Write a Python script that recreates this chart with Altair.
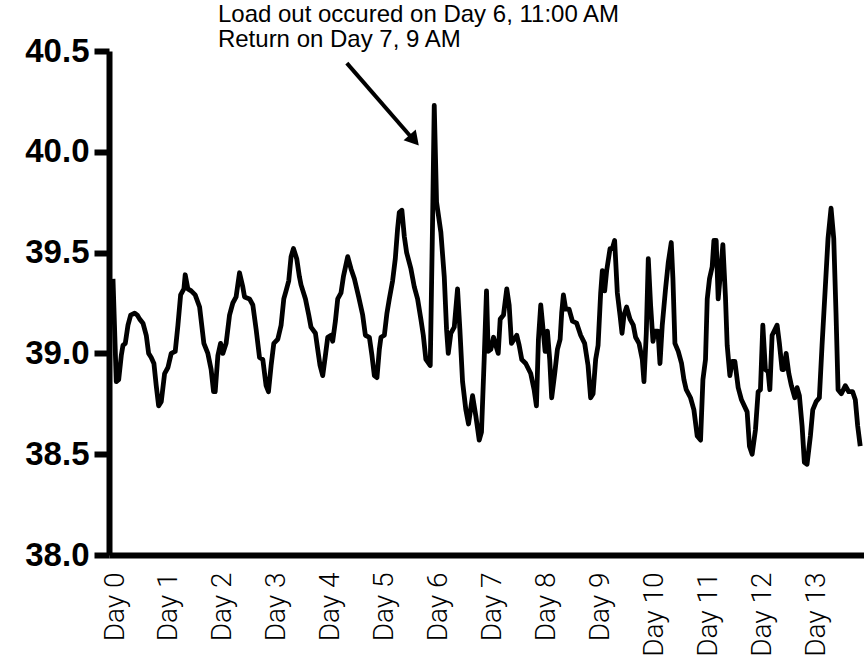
import altair as alt
import pandas as pd

day_ticks = list(range(14))
y_ticks = [38.0, 38.5, 39.0, 39.5, 40.0, 40.5]

days = [
    0.074, 0.135, 0.180, 0.228, 0.259, 0.302, 0.352, 0.402, 0.476, 0.524,
    0.569, 0.630, 0.691, 0.735, 0.783, 0.833, 0.876, 0.920, 0.969, 1.031,
    1.093, 1.154, 1.228, 1.278, 1.328, 1.389, 1.413, 1.463, 1.524, 1.598,
    1.680, 1.759, 1.833, 1.894, 1.939, 1.969, 2.019, 2.069, 2.111, 2.172,
    2.235, 2.296, 2.357, 2.420, 2.481, 2.513, 2.606, 2.667, 2.728, 2.791,
    2.852, 2.913, 2.957, 3.006, 3.056, 3.130, 3.191, 3.241, 3.283,
    3.333, 3.376, 3.420, 3.481, 3.531, 3.561, 3.643, 3.704, 3.746, 3.828,
    3.870, 3.913, 3.963, 4.013, 4.056, 4.117, 4.148, 4.198, 4.241, 4.302,
    4.346, 4.426, 4.487, 4.550, 4.630, 4.704, 4.754, 4.828, 4.876, 4.920,
    4.969, 5.013, 5.043, 5.106, 5.154, 5.198, 5.259, 5.309, 5.352, 5.383,
    5.431, 5.476, 5.519, 5.598, 5.661, 5.722, 5.783, 5.828, 5.876, 5.957,
    6.000, 6.031, 6.074, 6.154, 6.217, 6.259, 6.291, 6.339, 6.402, 6.463,
    6.506, 6.556, 6.617, 6.667,
    6.741, 6.802, 6.865, 6.907, 6.957, 7.000, 7.031, 7.080, 7.130, 7.172,
    7.217, 7.254, 7.315, 7.376, 7.420, 7.463, 7.513, 7.561, 7.606, 7.654,
    7.728, 7.820, 7.883, 7.926, 7.963, 8.006, 8.056, 8.087, 8.130, 8.172,
    8.209, 8.265, 8.315, 8.365, 8.394, 8.426, 8.469, 8.531, 8.593, 8.672,
    8.746, 8.820, 8.883, 8.931, 8.976, 9.024, 9.069, 9.117, 9.148, 9.191,
    9.228, 9.291, 9.333, 9.376, 9.426, 9.476, 9.513, 9.550, 9.598, 9.661,
    9.722, 9.765, 9.828, 9.889, 9.920, 9.963, 10.000, 10.043, 10.087, 10.124,
    10.180, 10.217, 10.259, 10.320, 10.370, 10.426, 10.457, 10.494, 10.556, 10.617,
    10.661, 10.704, 10.783, 10.846, 10.907, 10.969, 11.013, 11.061, 11.093, 11.135,
    11.185, 11.217, 11.259, 11.296, 11.339, 11.383, 11.431, 11.463, 11.513, 11.556,
    11.606, 11.667, 11.728, 11.833, 11.876, 11.926, 11.987, 12.037, 12.080, 12.124,
    12.172, 12.222, 12.254, 12.296, 12.389, 12.431, 12.481, 12.513, 12.556, 12.606,
    12.654, 12.717, 12.759, 12.802, 12.852, 12.894, 12.944, 13.006, 13.050, 13.111,
    13.172, 13.222, 13.283, 13.333, 13.389, 13.439, 13.481, 13.519, 13.580, 13.654,
    13.717, 13.789, 13.839, 13.883, 13.930,
]

temps = [
    39.37, 38.86, 38.87, 38.99, 39.04, 39.05, 39.14, 39.19, 39.20, 39.19,
    39.17, 39.15, 39.09, 39.00, 38.98, 38.95, 38.84, 38.74, 38.76, 38.90,
    38.93, 39.00, 39.01, 39.14, 39.29, 39.32, 39.39, 39.32, 39.31, 39.29,
    39.23, 39.05, 39.00, 38.92, 38.81, 38.81, 38.99, 39.05, 39.00, 39.05,
    39.19, 39.25, 39.28, 39.40, 39.33, 39.28, 39.27, 39.24, 39.12, 38.98,
    38.97, 38.84, 38.81, 38.94, 39.05, 39.07, 39.14, 39.27, 39.31,
    39.36, 39.48, 39.52, 39.47, 39.38, 39.34, 39.27, 39.19, 39.13, 39.10,
    39.02, 38.94, 38.89, 38.99, 39.08, 39.09, 39.06, 39.16, 39.27, 39.30,
    39.38, 39.48, 39.42, 39.37, 39.28, 39.19, 39.09, 39.08, 38.99, 38.89,
    38.88, 39.02, 39.08, 39.09, 39.20, 39.27, 39.36, 39.47, 39.62, 39.70,
    39.71, 39.58, 39.50, 39.42, 39.33, 39.27, 39.17, 39.09, 38.97, 38.94,
    39.65, 40.23, 39.75, 39.60, 39.38, 39.12, 39.00, 39.10, 39.13, 39.32,
    39.12, 38.86, 38.72, 38.65,
    38.79, 38.69, 38.57, 38.61, 38.97, 39.31, 39.01, 39.02, 39.08, 39.04,
    39.00, 39.17, 39.19, 39.32, 39.24, 39.05, 39.07, 39.09, 39.04, 38.97,
    38.95, 38.90, 38.82, 38.74, 39.07, 39.24, 39.10, 39.01, 39.11, 38.97,
    38.78, 38.90, 39.02, 39.07, 39.20, 39.29, 39.22, 39.22, 39.16, 39.15,
    39.09, 39.05, 38.94, 38.78, 38.80, 38.97, 39.04, 39.30, 39.41, 39.31,
    39.41, 39.52, 39.52, 39.56, 39.30, 39.19, 39.10, 39.19, 39.23, 39.17,
    39.14, 39.08, 39.05, 38.97, 38.86, 39.10, 39.47, 39.24, 39.06, 39.11,
    39.11, 38.95, 39.14, 39.32, 39.45, 39.55, 39.37, 39.05, 39.01, 38.95,
    38.87, 38.82, 38.78, 38.72, 38.59, 38.57, 38.87, 38.97, 39.27, 39.37,
    39.43, 39.56, 39.56, 39.27, 39.40, 39.54, 39.28, 39.04, 38.89, 38.96,
    38.96, 38.83, 38.77, 38.71, 38.54, 38.50, 38.62, 38.81, 38.82, 39.14,
    38.92, 38.91, 38.82, 39.09, 39.14, 39.05, 38.92, 38.92, 39.00, 38.90,
    38.84, 38.78, 38.83, 38.79, 38.64, 38.46, 38.45, 38.59, 38.72, 38.76,
    38.78, 39.04, 39.33, 39.57, 39.72, 39.57, 39.20, 38.82, 38.80, 38.84,
    38.81, 38.81, 38.77, 38.64, 38.54,
]

note_lines = ["Load out occured on Day 6, 11:00 AM", "Return on Day 7, 9 AM"]
note_day = [2.02, 2.02]
note_temp = [40.68, 40.555]

arrow_start = [4.41, 40.44]
arrow_end = [5.63, 40.065]
head_pos = [5.66, 40.058]

df = pd.DataFrame({"day": days, "temp": temps})
notes = pd.DataFrame({"day": note_day, "temp": note_temp, "label": note_lines})
arrow = pd.DataFrame({"day": [arrow_start[0]], "temp": [arrow_start[1]],
                      "day2": [arrow_end[0]], "temp2": [arrow_end[1]]})
head = pd.DataFrame({"day": [head_pos[0]], "temp": [head_pos[1]]})

x_scale = alt.Scale(domain=[0, 14], nice=False, zero=False)
y_scale = alt.Scale(domain=[38, 40.5], nice=False, zero=False)

x_axis = alt.Axis(
    values=day_ticks, labelExpr="'Day ' + datum.value", labelAngle=270,
    ticks=False, tickSize=0, domainWidth=6, domainColor="black",
    labelFont="Roboto", labelFontWeight=300, labelFontSize=28, labelColor="black",
    labelPadding=17, labelOffset=6, labelFlush=False, labelOverlap=False,
    grid=False, title=None,
)
y_axis = alt.Axis(
    values=y_ticks, format=".1f", tickSize=15, tickWidth=6, tickColor="black",
    domainWidth=6, domainColor="black", labelFont="Liberation Sans",
    labelFontWeight="bold", labelFontSize=33, labelColor="black",
    labelPadding=5, labelFlush=False, labelOverlap=False, grid=False, title=None,
)

line = alt.Chart(df).mark_line(
    color="black", strokeWidth=4.8, strokeJoin="round"
).encode(
    x=alt.X("day:Q", scale=x_scale, axis=x_axis),
    y=alt.Y("temp:Q", scale=y_scale, axis=y_axis),
)

text = alt.Chart(notes).mark_text(
    align="left", baseline="middle", font="Liberation Sans", fontSize=24, color="black"
).encode(
    x=alt.X("day:Q", scale=x_scale),
    y=alt.Y("temp:Q", scale=y_scale),
    text="label:N",
)

rule = alt.Chart(arrow).mark_rule(color="black", strokeWidth=4).encode(
    x=alt.X("day:Q", scale=x_scale),
    y=alt.Y("temp:Q", scale=y_scale),
    x2="day2:Q",
    y2="temp2:Q",
)

tip = alt.Chart(head).mark_point(
    shape="triangle-right", filled=True, size=260, angle=49, color="black", opacity=1
).encode(
    x=alt.X("day:Q", scale=x_scale),
    y=alt.Y("temp:Q", scale=y_scale),
)

chart = alt.layer(line, rule, tip, text).properties(
    width=755, height=504,
    autosize=alt.AutoSizeParams(type="none"),
    padding={"left": 109, "top": 51, "right": 0, "bottom": 108},
).configure(background="white", view=alt.ViewConfig(stroke=None))

chart.save("out.html", embed_options={"renderer": "svg", "actions": False})
